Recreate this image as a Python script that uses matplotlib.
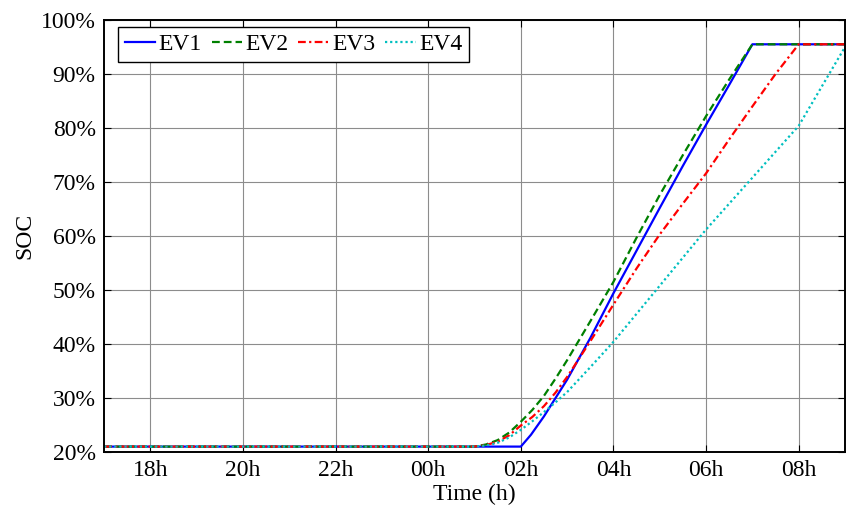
import numpy as np
import matplotlib.pyplot as plt

plt.rcParams['font.family'] = ['Liberation Serif', 'DejaVu Serif']
fs = 17

# hours counted from midnight of the first day (00h next day = 24)
t_ev1 = [17, 26.0, 26.22, 26.5, 27.0, 27.5, 28.0, 28.5, 29.0, 29.5, 30.0, 30.5, 31.0, 33]
soc_ev1 = [21, 21.0, 23.2, 26.6, 33.4, 41.1, 49.4, 57.3, 65.2, 73.0, 80.6, 88.0, 95.5, 95.5]

t_ev2 = [17, 25.0, 25.25, 25.5, 25.75, 26.0, 26.25, 26.5, 26.75, 27.0, 27.5, 28.0, 28.5, 29.0, 29.5, 30.0, 30.5, 31.0, 33]
soc_ev2 = [21, 21.0, 21.4, 22.2, 23.6, 25.6, 27.8, 30.4, 33.6, 37.0, 44.2, 51.5, 59.7, 67.6, 75.0, 82.2, 89.0, 95.5, 95.5]

t_ev3 = [17, 25.0, 25.25, 25.5, 25.75, 26.0, 26.25, 26.5, 26.75, 27.0, 27.5, 28.0, 28.5, 29.0, 29.5, 30.0, 30.5, 31.0, 31.5, 32.0, 33]
soc_ev3 = [21, 21.0, 21.3, 21.9, 23.1, 24.9, 26.5, 28.5, 31.0, 33.9, 40.5, 47.3, 54.0, 60.3, 66.0, 71.6, 77.9, 84.0, 90.0, 95.5, 95.5]

t_ev4 = [17, 25.0, 25.25, 25.5, 25.75, 26.0, 26.25, 26.5, 26.75, 27.0, 27.5, 28.0, 28.5, 29.0, 29.5, 30.0, 30.5, 31.0, 31.5, 32.0, 32.5, 33.0]
soc_ev4 = [21, 21.0, 21.2, 21.7, 22.7, 24.1, 25.7, 27.4, 29.2, 31.1, 35.7, 40.4, 45.6, 50.8, 56.0, 61.2, 66.0, 70.8, 75.6, 80.4, 87.7, 95.0]

xticks = [18, 20, 22, 24, 26, 28, 30, 32]
xticklabels = ['18h', '20h', '22h', '00h', '02h', '04h', '06h', '08h']
yticks = [20, 30, 40, 50, 60, 70, 80, 90, 100]

fig = plt.figure(figsize=(8.46, 5.09), dpi=100)
ax = fig.add_axes([104/846, 1 - 452/509, (845-104)/846, (452-20)/509])

ax.plot(t_ev1, soc_ev1, color='#0000ff', ls='-', lw=1.6, label='EV1')
ax.plot(t_ev2, soc_ev2, color='#008000', ls='--', lw=1.6, label='EV2', dashes=(3.5, 1.8))
ax.plot(t_ev3, soc_ev3, color='#ff0000', ls='-.', lw=1.6, label='EV3', dashes=(3.5, 1.5, 1, 1.5))
ax.plot(t_ev4, soc_ev4, color='#00bfbf', ls=':', lw=1.6, label='EV4', dashes=(1, 1.3))

ax.set_xlim(17, 33)
ax.set_ylim(20, 100)
ax.set_xticks(xticks)
ax.set_xticklabels(xticklabels)
ax.set_yticks(yticks)
ax.set_yticklabels([str(v) + '%' for v in yticks])
ax.tick_params(direction='in', top=True, right=True, labelsize=fs, length=5, width=0.8, pad=6)
ax.grid(True, color='0.55', lw=0.8)
for s in ax.spines.values():
    s.set_linewidth(1.4)

ax.set_xlabel('Time (h)', fontsize=fs, labelpad=2)
ax.set_ylabel('SOC', fontsize=fs, labelpad=4)

leg = ax.legend(loc='upper left', bbox_to_anchor=(14/741, 1 - 7/432), borderaxespad=0,
                ncol=4, fontsize=fs, frameon=True, fancybox=False,
                edgecolor='black', framealpha=1, borderpad=0.28, handlelength=1.3,
                handletextpad=0.15, columnspacing=0.4)
leg.get_frame().set_linewidth(1.0)

fig.savefig('out.png', dpi=100)
